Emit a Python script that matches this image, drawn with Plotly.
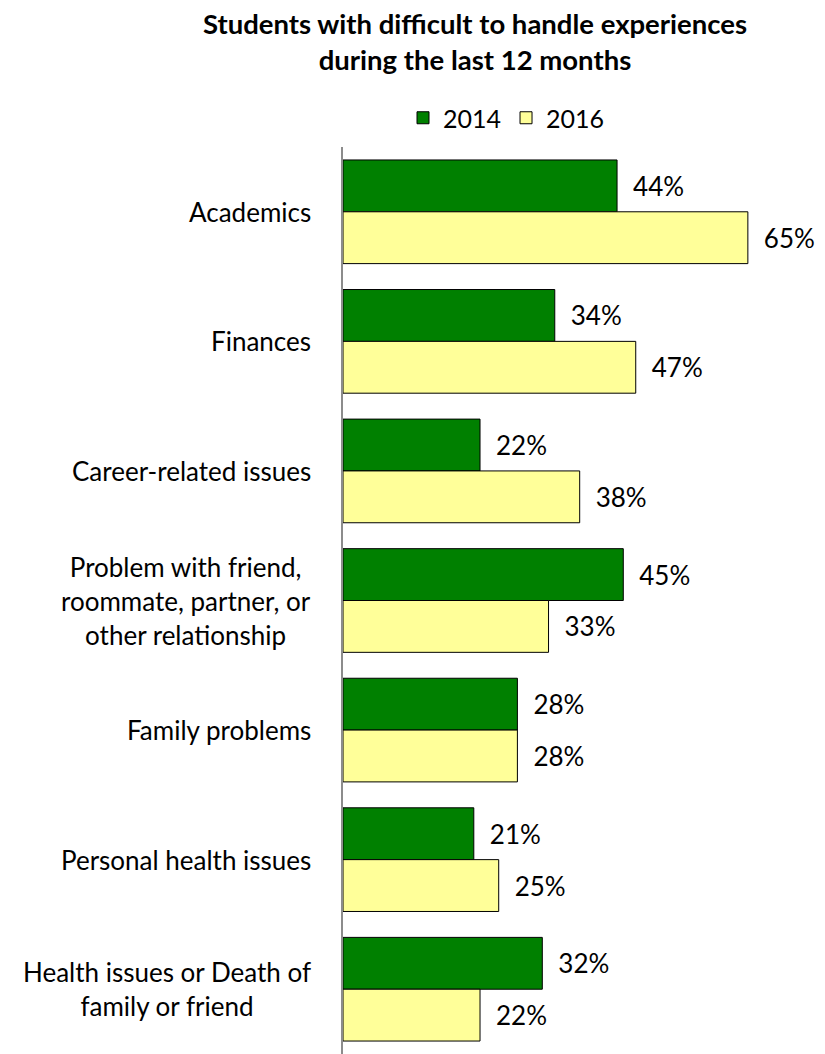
import plotly.graph_objects as go

categories = [
    "Academics",
    "Finances",
    "Career-related issues",
    "Problem with friend,<br>roommate, partner, or<br>other relationship",
    "Family problems",
    "Personal health issues",
    "Health issues or Death of<br>family or friend",
]
values_2014 = [44, 34, 22, 45, 28, 21, 32]
values_2016 = [65, 47, 38, 33, 28, 25, 22]
series_names = ["2014", "2016"]

FONT = "Lato, 'Open Sans', sans-serif"
W, H = 817, 1046  # page adds an 8px body margin
ML, MR, MT, MB = 335, 46, 139, 0
PW, PH = W - ML - MR, H - MT - MB

fig = go.Figure()
fig.add_trace(go.Bar(
    y=categories, x=values_2014, name=series_names[0], orientation="h",
    marker=dict(color="#008000", line=dict(color="#000000", width=1)),
    text=[f"\u2002{v}%" for v in values_2014], textposition="outside",
    textfont=dict(size=26, color="#000000", family=FONT), cliponaxis=False,
))
fig.add_trace(go.Bar(
    y=categories, x=values_2016, name=series_names[1], orientation="h",
    marker=dict(color="#FFFF99", line=dict(color="#000000", width=1)),
    text=[f"\u2002{v}%" for v in values_2016], textposition="outside",
    textfont=dict(size=26, color="#000000", family=FONT), cliponaxis=False,
))

for c in categories:
    fig.add_annotation(
        x=0, y=c, xref="x", yref="y", text=c, showarrow=False,
        xanchor="right", align="center", xshift=-30,
        font=dict(size=26, color="#000000", family=FONT),
    )

fig.add_annotation(
    text="<b>Students with difficult to handle experiences<br>during the last 12 months</b>",
    xref="paper", yref="paper", x=(467 - ML) / PW, y=1 + (MT + 3) / PH,
    xanchor="center", yanchor="top", align="center", showarrow=False,
    font=dict(size=27.5, color="#000000", family=FONT),
)

fig.update_layout(
    width=W, height=H,
    margin=dict(l=ML, r=MR, t=MT, b=MB),
    paper_bgcolor="white", plot_bgcolor="white",
    barmode="group", bargap=0.2, bargroupgap=0,
    font=dict(family=FONT, color="#000000"),
    legend=dict(
        orientation="h", x=0.375, xanchor="center", xref="paper",
        y=1 - (118 - 8) / H, yref="container", yanchor="middle",
        font=dict(size=25, color="#000000", family=FONT),
        itemwidth=30, traceorder="normal",
    ),
    showlegend=True,
)
fig.update_xaxes(range=[0, 70], visible=False, showgrid=False, zeroline=False)
fig.update_yaxes(autorange="reversed", showticklabels=False, showgrid=False,
                 showline=True, linecolor="#8c8c8c", linewidth=2, ticks="")

fig.write_html("out.html")
